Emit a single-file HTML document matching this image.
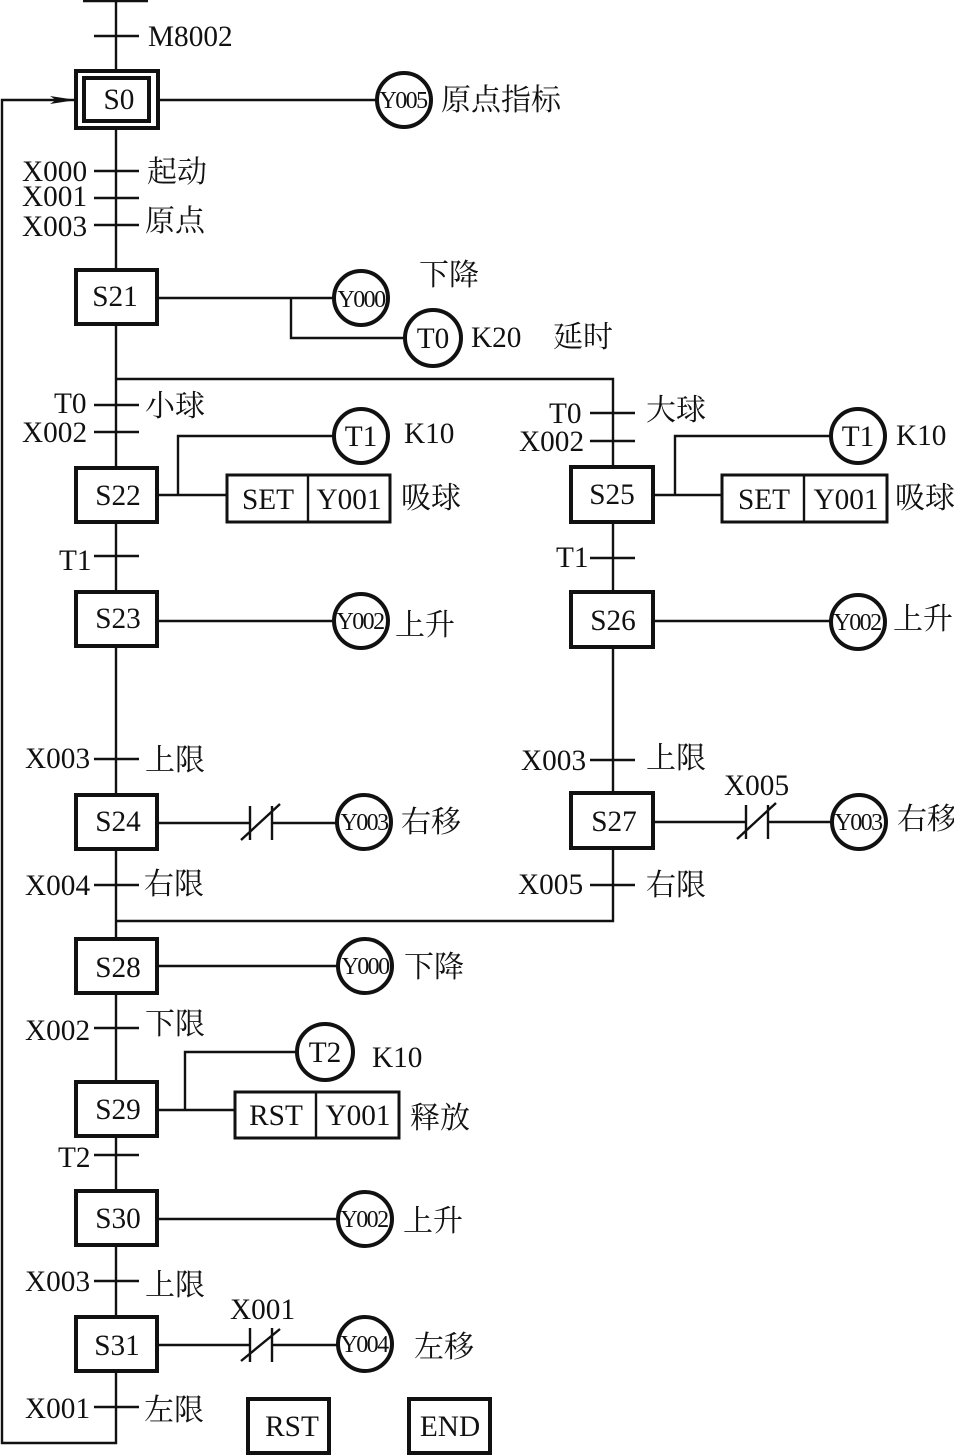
<!DOCTYPE html>
<html><head><meta charset="utf-8"><style>
html,body{margin:0;padding:0;background:#fff}
svg{display:block}
text{font-family:"Liberation Serif","Noto Serif CJK SC",serif;fill:#111;font-size:29.3px}
.c{font-size:30px}
.s{text-anchor:middle;font-size:29.3px}
.y{text-anchor:middle;font-size:24px;letter-spacing:-1.6px}
.l{stroke:#111;stroke-width:2.4;fill:none}
.b{stroke:#111;stroke-width:4;fill:#fff}
.n{stroke:#111;stroke-width:3;fill:#fff}
.o{stroke:#111;stroke-width:4;fill:#fff}
</style></head><body>
<svg width="954" height="1455" viewBox="0 0 954 1455" xmlns="http://www.w3.org/2000/svg">
<!-- main lines -->
<path class="l" d="M116 0V1443H2V100H75M83 1H148M94 36H139"/>
<path d="M50 96L76 100L50 104L56 100Z" fill="#111"/>
<path class="l" d="M160 100H376M94 171H139M94 198H139M94 225H139"/>
<path class="l" d="M158 298H333M291 298V338H405"/>
<path class="l" d="M116 379H613V921H116"/>
<path class="l" d="M94 405H139M94 432H139M94 556H139M94 759H139M94 885H139M94 1028H139M94 1155H139M94 1281H139M94 1407H139"/>
<path class="l" d="M590 413H635M590 441H635M590 558H635M590 760H635M590 885H635"/>
<path class="l" d="M158 495H227M178 495V436H333M654 495H722M675 495V436H830"/>
<path class="l" d="M158 621H333M654 621H830M158 823H250M272 823H336M654 822H746M768 822H832M158 966H338M158 1219H338M158 1345H250M272 1345H338"/>
<path class="l" d="M158 1110H235M185 1110V1052H296"/>
<!-- NC contacts -->
<path class="l" d="M250 806V840M272 806V840M241 840L280 804"/>
<path class="l" d="M746 805V839M768 805V839M737 839L776 803"/>
<path class="l" d="M250 1328V1362M272 1328V1362M241 1361L280 1329"/>
<!-- S0 -->
<rect class="b" x="76" y="71" width="82" height="57"/>
<rect class="b" x="84" y="78" width="65" height="43"/>
<text class="s" x="119" y="109">S0</text>
<!-- step boxes -->
<rect class="b" x="76" y="270" width="81" height="54"/><text class="s" x="115" y="306">S21</text>
<rect class="b" x="76" y="468" width="81" height="54"/><text class="s" x="118" y="505">S22</text>
<rect class="b" x="76" y="592" width="81" height="54"/><text class="s" x="118" y="628">S23</text>
<rect class="b" x="76" y="795" width="81" height="54"/><text class="s" x="118" y="831">S24</text>
<rect class="b" x="76" y="939" width="81" height="54"/><text class="s" x="118" y="977">S28</text>
<rect class="b" x="76" y="1082" width="81" height="54"/><text class="s" x="118" y="1119">S29</text>
<rect class="b" x="76" y="1191" width="81" height="54"/><text class="s" x="118" y="1228">S30</text>
<rect class="b" x="76" y="1317" width="81" height="54"/><text class="s" x="117" y="1355">S31</text>
<rect class="b" x="571" y="467" width="82" height="55"/><text class="s" x="612" y="504">S25</text>
<rect class="b" x="571" y="592" width="82" height="55"/><text class="s" x="613" y="630">S26</text>
<rect class="b" x="571" y="793" width="82" height="55"/><text class="s" x="614" y="831">S27</text>
<rect class="b" x="248" y="1399" width="81" height="54"/><text class="s" x="292" y="1436">RST</text>
<rect class="b" x="409" y="1399" width="81" height="54"/><text class="s" x="450" y="1436">END</text>
<!-- action boxes -->
<rect class="n" x="227" y="475" width="163" height="47"/><path class="l" d="M308 475V522"/>
<text class="s" x="268" y="509">SET</text><text class="s" x="349" y="509">Y001</text>
<rect class="n" x="722" y="475" width="165" height="47"/><path class="l" d="M804 475V522"/>
<text class="s" x="764" y="509">SET</text><text class="s" x="846" y="509">Y001</text>
<rect class="n" x="235" y="1092" width="164" height="46"/><path class="l" d="M316 1092V1138"/>
<text class="s" x="276" y="1125">RST</text><text class="s" x="358" y="1125">Y001</text>
<!-- coils -->
<circle class="o" cx="404" cy="100" r="27"/><text class="y" x="403" y="108">Y005</text>
<circle class="o" cx="361" cy="298" r="27"/><text class="y" x="361" y="307">Y000</text>
<circle class="o" cx="433" cy="338" r="28"/><text class="s" x="433" y="348">T0</text>
<circle class="o" cx="361" cy="436" r="27"/><text class="s" x="361" y="446">T1</text>
<circle class="o" cx="858" cy="436" r="27"/><text class="s" x="858" y="446">T1</text>
<circle class="o" cx="361" cy="621" r="27"/><text class="y" x="360" y="629">Y002</text>
<circle class="o" cx="858" cy="622" r="27"/><text class="y" x="857" y="630">Y002</text>
<circle class="o" cx="364" cy="822" r="27"/><text class="y" x="364" y="830">Y003</text>
<circle class="o" cx="859" cy="822" r="27"/><text class="y" x="858" y="830">Y003</text>
<circle class="o" cx="365" cy="966" r="27"/><text class="y" x="365" y="974">Y000</text>
<circle class="o" cx="325" cy="1052" r="28"/><text class="s" x="325" y="1062">T2</text>
<circle class="o" cx="365" cy="1219" r="27"/><text class="y" x="364" y="1227">Y002</text>
<circle class="o" cx="365" cy="1344" r="27"/><text class="y" x="364" y="1352">Y004</text>
<!-- labels -->
<text x="148" y="46">M8002</text>
<text x="22" y="181">X000</text><text x="22" y="206">X001</text><text x="22" y="236">X003</text>
<text class="c" x="147" y="182">起动</text><text class="c" x="145" y="231">原点</text>
<text class="c" x="441" y="110">原点指标</text>
<text class="c" x="419" y="285">下降</text><text x="471" y="347">K20</text><text class="c" x="553" y="347">延时</text>
<text x="54" y="413">T0</text><text x="22" y="442">X002</text><text class="c" x="145" y="416">小球</text>
<text x="404" y="443">K10</text><text class="c" x="401" y="508">吸球</text>
<text x="549" y="423">T0</text><text x="519" y="451">X002</text><text class="c" x="646" y="420">大球</text>
<text x="896" y="445">K10</text><text class="c" x="895" y="508">吸球</text>
<text x="59" y="570">T1</text><text x="556" y="567">T1</text>
<text class="c" x="395" y="635">上升</text><text class="c" x="893" y="629">上升</text>
<text x="25" y="768">X003</text><text class="c" x="145" y="770">上限</text>
<text x="521" y="770">X003</text><text class="c" x="646" y="768">上限</text>
<text x="724" y="795">X005</text><text class="c" x="401" y="832">右移</text><text class="c" x="897" y="829">右移</text>
<text x="25" y="895">X004</text><text class="c" x="144" y="894">右限</text>
<text x="518" y="894">X005</text><text class="c" x="646" y="895">右限</text>
<text class="c" x="404" y="977">下降</text>
<text x="25" y="1040">X002</text><text class="c" x="145" y="1034">下限</text>
<text x="372" y="1067">K10</text><text class="c" x="410" y="1128">释放</text>
<text x="58" y="1167">T2</text><text class="c" x="403" y="1231">上升</text>
<text x="25" y="1291">X003</text><text class="c" x="145" y="1295">上限</text>
<text x="230" y="1319">X001</text><text class="c" x="414" y="1357">左移</text>
<text x="25" y="1418">X001</text><text class="c" x="144" y="1420">左限</text>
</svg>
</body></html>
